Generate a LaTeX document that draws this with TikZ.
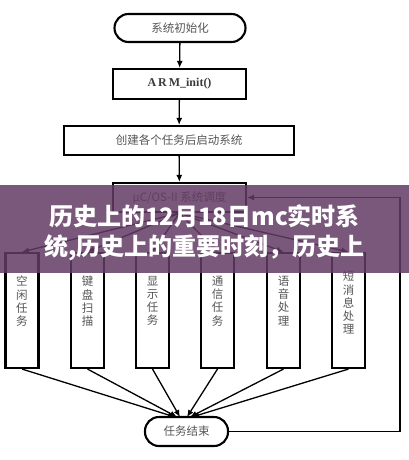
\documentclass[tikz,border=0pt]{standalone}
\usepackage{fontspec}
\setmainfont{Liberation Serif}
\newfontfamily\cjk{Noto Sans CJK SC}
\usetikzlibrary{arrows.meta,positioning}
\definecolor{bannerc}{RGB}{99,59,101}
\definecolor{txtgray}{RGB}{85,85,85}
\tikzset{
  boxline/.style={draw=black, line width=2.1pt, fill=white, inner sep=0pt},
  termbox/.style={boxline, rounded corners=14pt},
  rectbox/.style={boxline},
  taskbox/.style={boxline, minimum width=33pt, minimum height=115pt},
  tasktext/.style={anchor=north, inner sep=0pt, align=center, text=txtgray,
     font=\cjk\fontsize{11.5}{13.2}\selectfont},
  lbl/.style={text=txtgray, font=\cjk\fontsize{11.5}{13}\selectfont},
  conn/.style={draw=black, line width=1.3pt, -{Latex[length=7pt,width=6pt]}},
}
\begin{document}
\begin{tikzpicture}[x=1pt,y=-1pt]
\useasboundingbox (0,0) rectangle (409,460);
\fill[white] (0,0) rectangle (409,460);
% main column
\node[termbox, minimum width=131pt, minimum height=28pt, lbl] (init) at (180,28) {系统初始化};
\node[rectbox, minimum width=133pt, minimum height=30pt, text=txtgray!70!black, font=\bfseries\fontsize{12}{14}\selectfont] (arm) at (179.5,84) {A\,R\,M\_init()};
\node[rectbox, minimum width=230pt, minimum height=29pt, lbl] (create) at (179,140.5) {创建各个任务后启动系统};
\node[rectbox, minimum width=133pt, minimum height=29pt, lbl] (sched) at (179.5,197.5) {μC/OS-II 系统调度};
\draw[conn] (init) -- (arm);
\draw[conn] (arm) -- (create);
\draw[conn] (create) -- (sched);
% tasks
\node[taskbox] (t1) at (22,310.5) {};
\node[taskbox] (t2) at (87.5,310.5) {};
\node[taskbox] (t3) at (152.5,310.5) {};
\node[taskbox] (t4) at (217.5,310.5) {};
\node[taskbox] (t5) at (283.5,310.5) {};
\node[taskbox] (t6) at (348.5,310.5) {};
\node[tasktext] (x1) at (22,276) {空\\闲\\任\\务};
\node[tasktext] (x2) at (87.5,276) {键\\盘\\扫\\描};
\node[tasktext] (x3) at (152.5,276) {显\\示\\任\\务};
\node[tasktext] (x4) at (217.5,276) {通\\信\\任\\务};
\node[tasktext] (x5) at (283.5,276) {语\\音\\处\\理};
\node[tasktext] (x6) at (348.5,271) {短\\消\\息\\处\\理};
\foreach \i in {1,...,6} {\draw[conn] (sched.south) -- (t\i.north);}
% end
\node[termbox, minimum width=83pt, minimum height=29pt, lbl] (fin) at (186.5,431.5) {任务结束};
\coordinate (e1) at (175,417);
\coordinate (e2) at (177,417);
\coordinate (e3) at (180,417);
\coordinate (e4) at (187,417);
\coordinate (e5) at (190,417);
\coordinate (e6) at (192,417);
\foreach \i in {1,...,6} {\draw[conn] (t\i.south) -- (e\i);}
\coordinate (loopA) at (400,431.5);
\coordinate (loopB) at (400,197.5);
\draw[conn] (fin.east) -- (loopA) -- (loopB) -- (sched.east);
% banner
\fill[bannerc, opacity=0.85] (0,185) rectangle (409,273);
\node[text=white, font=\cjk\bfseries\fontsize{24}{30}\selectfont, align=center, inner sep=0pt] (banner) at (204.5,233) {历史上的12月18日mc实时系\\统,历史上的重要时刻，历史上};
\end{tikzpicture}
\end{document}
